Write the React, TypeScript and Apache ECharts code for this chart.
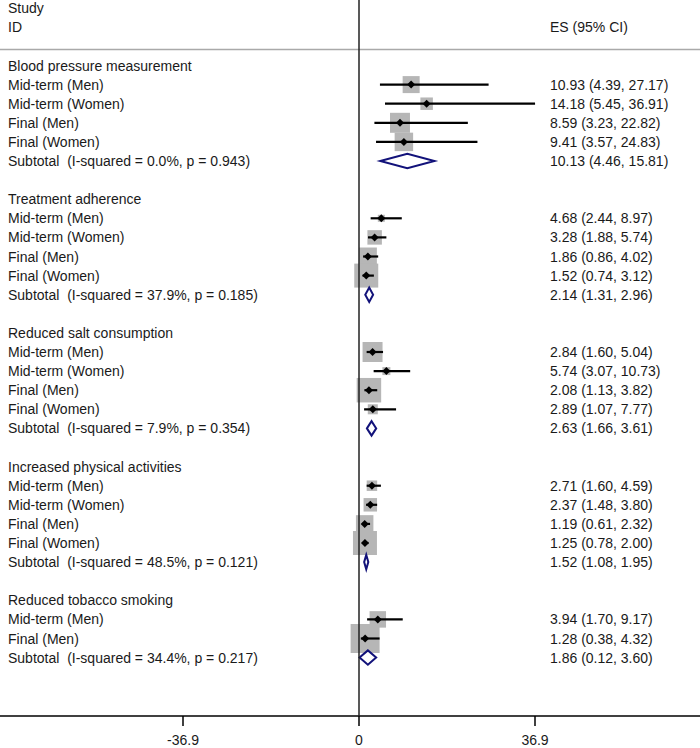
import React, { useEffect, useRef } from "react";
import * as echarts from "echarts";

const groups = [
  "Blood pressure measurement",
  "Treatment adherence",
  "Reduced salt consumption",
  "Increased physical activities",
  "Reduced tobacco smoking",
];

const studyLabels = [
  ["Mid-term (Men)", "Mid-term (Women)", "Final (Men)", "Final (Women)"],
  ["Mid-term (Men)", "Mid-term (Women)", "Final (Men)", "Final (Women)"],
  ["Mid-term (Men)", "Mid-term (Women)", "Final (Men)", "Final (Women)"],
  ["Mid-term (Men)", "Mid-term (Women)", "Final (Men)", "Final (Women)"],
  ["Mid-term (Men)", "Final (Men)"],
];

const studyES = [
  [10.93, 14.18, 8.59, 9.41],
  [4.68, 3.28, 1.86, 1.52],
  [2.84, 5.74, 2.08, 2.89],
  [2.71, 2.37, 1.19, 1.25],
  [3.94, 1.28],
];

const studyLow = [
  [4.39, 5.45, 3.23, 3.57],
  [2.44, 1.88, 0.86, 0.74],
  [1.6, 3.07, 1.13, 1.07],
  [1.6, 1.48, 0.61, 0.78],
  [1.7, 0.38],
];

const studyHigh = [
  [27.17, 36.91, 22.82, 24.83],
  [8.97, 5.74, 4.02, 3.12],
  [5.04, 10.73, 3.82, 7.77],
  [4.59, 3.8, 2.32, 2.0],
  [9.17, 4.32],
];

// estimated study weights (%)
const studyWeight = [
  [4.99, 2.69, 6.9, 5.9],
  [0.85, 3.62, 5.59, 9.94],
  [6.9, 1.1, 10.35, 1.73],
  [1.9, 3.14, 5.28, 9.94],
  [4.69, 14.51],
];

const subtotalLabels = [
  "Subtotal  (I-squared = 0.0%, p = 0.943)",
  "Subtotal  (I-squared = 37.9%, p = 0.185)",
  "Subtotal  (I-squared = 7.9%, p = 0.354)",
  "Subtotal  (I-squared = 48.5%, p = 0.121)",
  "Subtotal  (I-squared = 34.4%, p = 0.217)",
];
const subtotalES = [10.13, 2.14, 2.63, 1.52, 1.86];
const subtotalLow = [4.46, 1.31, 1.66, 1.08, 0.12];
const subtotalHigh = [15.81, 2.96, 3.61, 1.95, 3.6];

const xTicks = [-36.9, 0, 36.9];

const FONT = "'Liberation Sans', Arial, Helvetica, sans-serif";
const TEXT_COLOR = "#1a1a1a";
const NAVY = "#12127a";

const fmt = (v: number) => v.toFixed(2);

export default function App() {
  const ref = useRef<HTMLDivElement>(null);

  useEffect(() => {
    if (!ref.current) return;
    const chart = echarts.init(ref.current, null, { renderer: "svg" });

    type Row = { r: number; left: string; right: string };
    const textRows: Row[] = [
      { r: -3, left: "Study", right: "" },
      { r: -2, left: "ID", right: "ES (95% CI)" },
    ];
    const studies: number[][] = []; // [es, r, w, lo, hi]
    const subs: number[][] = []; // [es, r, lo, hi]
    let r = 0;
    groups.forEach((g, gi) => {
      textRows.push({ r, left: g, right: "" });
      r++;
      studyLabels[gi].forEach((lab, i) => {
        const es = studyES[gi][i];
        const lo = studyLow[gi][i];
        const hi = studyHigh[gi][i];
        textRows.push({ r, left: lab, right: `${fmt(es)} (${fmt(lo)}, ${fmt(hi)})` });
        studies.push([es, r, studyWeight[gi][i], lo, hi]);
        r++;
      });
      const es = subtotalES[gi];
      const lo = subtotalLow[gi];
      const hi = subtotalHigh[gi];
      textRows.push({ r, left: subtotalLabels[gi], right: `${fmt(es)} (${fmt(lo)}, ${fmt(hi)})` });
      subs.push([es, r, lo, hi]);
      r++;
      r++;
    });

    const pxPerUnit = 4.77;
    const zeroPx = 359;
    const xMin = -zeroPx / pxPerUnit;
    const xMax = (700 - zeroPx) / pxPerUnit;
    const rowStep = 19.1;
    const row0 = 65.5;
    const plotH = 716;
    const yMin = -row0 / rowStep;
    const yMax = yMin + plotH / rowStep;

    chart.setOption({
      animation: false,
      backgroundColor: "#ffffff",
      grid: { left: 0, right: 0, top: 0, bottom: 748 - plotH },
      xAxis: {
        type: "value",
        min: xMin,
        max: xMax,
        splitLine: { show: false },
        axisLine: { show: true, onZero: false, lineStyle: { color: "#000", width: 1.5 } },
        axisTick: { show: true, customValues: xTicks, length: 10, lineStyle: { color: "#000", width: 1.5 } },
        axisLabel: {
          customValues: xTicks,
          formatter: (v: number) => (v === 0 ? "0" : String(v)),
          fontSize: 14,
          fontFamily: FONT,
          color: TEXT_COLOR,
          margin: 17,
        },
      },
      yAxis: { type: "value", inverse: true, min: yMin, max: yMax, show: false },
      graphic: [
        {
          type: "line",
          shape: { x1: 0, y1: 49.5, x2: 700, y2: 49.5 },
          style: { stroke: "#a9a9a9", lineWidth: 1.5 },
          z: 1,
        },
      ],
      series: [
        {
          type: "scatter",
          symbol: "rect",
          data: studies.map((s) => [s[0], s[1], s[2]]),
          symbolSize: (v: number[]) => Math.sqrt(v[2]) * 7.61,
          itemStyle: { color: "#b6b6b6", opacity: 1 },
          silent: true,
          z: 2,
          markLine: {
            silent: true,
            symbol: "none",
            label: { show: false },
            lineStyle: { color: "#222", width: 1.5, type: "solid" },
            data: [{ xAxis: 0 }],
          },
        },
        {
          type: "custom",
          data: studies.map((s) => [s[3], s[1], s[4]]),
          z: 3,
          renderItem: (params: any, api: any) => {
            const p1 = api.coord([api.value(0), api.value(1)]);
            const p2 = api.coord([api.value(2), api.value(1)]);
            return {
              type: "line",
              shape: { x1: p1[0], y1: p1[1], x2: p2[0], y2: p2[1] },
              style: { stroke: "#000", lineWidth: 2.2 },
            };
          },
        },
        {
          type: "scatter",
          symbol: "diamond",
          symbolSize: [8, 8],
          data: studies.map((s) => [s[0], s[1]]),
          itemStyle: { color: "#000", opacity: 1 },
          z: 4,
          silent: true,
        },
        {
          type: "custom",
          data: subs.map((s) => [s[0], s[1], s[2], s[3]]),
          z: 4,
          renderItem: (params: any, api: any) => {
            const c = api.coord([api.value(0), api.value(1)]);
            const l = api.coord([api.value(2), api.value(1)]);
            const h = api.coord([api.value(3), api.value(1)]);
            const hh = 7.2;
            return {
              type: "polygon",
              shape: {
                points: [
                  [l[0], c[1]],
                  [c[0], c[1] - hh],
                  [h[0], c[1]],
                  [c[0], c[1] + hh],
                ],
              },
              style: { fill: "#ffffff", stroke: NAVY, lineWidth: 2 },
            };
          },
        },
        {
          type: "custom",
          data: textRows.map((t, i) => [0, t.r, i]),
          z: 5,
          clip: false,
          renderItem: (params: any, api: any) => {
            const t = textRows[api.value(2)];
            const y = api.coord([0, api.value(1)])[1];
            const children: any[] = [
              {
                type: "text",
                x: 8,
                y,
                style: {
                  text: t.left,
                  fontSize: 14,
                  fontFamily: FONT,
                  fill: TEXT_COLOR,
                  align: "left",
                  verticalAlign: "middle",
                },
              },
            ];
            if (t.right) {
              children.push({
                type: "text",
                x: 550,
                y,
                style: {
                  text: t.right,
                  fontSize: 14,
                  fontFamily: FONT,
                  fill: TEXT_COLOR,
                  align: "left",
                  verticalAlign: "middle",
                },
              });
            }
            return { type: "group", children };
          },
        },
      ],
    });

    return () => chart.dispose();
  }, []);

  return (
    <div
      ref={ref}
      style={{ position: "absolute", left: 0, top: 0, width: 700, height: 748, background: "#fff" }}
    />
  );
}
